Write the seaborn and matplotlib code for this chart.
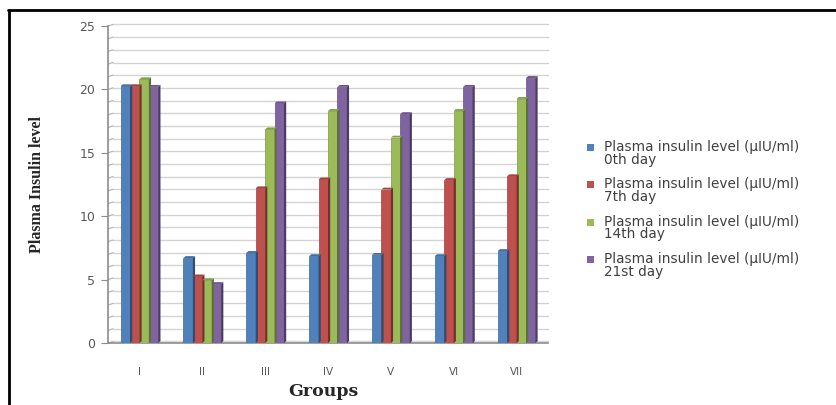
import numpy as np
import pandas as pd
import matplotlib
matplotlib.use("Agg")
import matplotlib.pyplot as plt
from matplotlib.patches import Rectangle, Polygon
from matplotlib.lines import Line2D
import seaborn as sns

groups = ["I", "II", "III", "IV", "V", "VI", "VII"]
day0 = [20.25, 6.7, 7.1, 6.85, 6.95, 6.85, 7.25]
day7 = [20.25, 5.25, 12.2, 12.9, 12.1, 12.85, 13.15]
day14 = [20.8, 4.95, 16.85, 18.3, 16.2, 18.3, 19.25]
day21 = [20.2, 4.65, 18.9, 20.2, 18.05, 20.2, 20.9]
series = [
    "Plasma insulin level (\u00b5IU/ml)\n0th day",
    "Plasma insulin level (\u00b5IU/ml)\n7th day",
    "Plasma insulin level (\u00b5IU/ml)\n14th day",
    "Plasma insulin level (\u00b5IU/ml)\n21st day",
]
colors = ["#4F81BD", "#C0504D", "#9BBB59", "#8064A2"]

df = pd.DataFrame({
    "Group": groups * 4,
    "Series": np.repeat(series, len(groups)),
    "Value": day0 + day7 + day14 + day21,
})

sns.set_style("white")
plt.rcParams["font.family"] = ["DejaVu Sans"]

W, H = 836, 405
fig = plt.figure(figsize=(W / 100, H / 100), dpi=100)
ax = fig.add_axes([108 / W, 1 - 343 / H, 440 / W, 317 / H])

sns.barplot(data=df, x="Group", y="Value", hue="Series", order=groups,
            hue_order=series, palette=colors, width=0.6, gap=0,
            saturation=1, ax=ax, legend=False, zorder=3)

ax.set_ylim(0, 25)
ax.set_xlim(-0.5, len(groups) - 0.5)

# back-wall gridlines (one per unit) with slanted joins to the axis
dx = 0.08
for v in range(0, 26):
    ax.plot([-0.5 + dx, len(groups) - 0.5], [v + 0.12, v + 0.12],
            color="#d4d4d4", lw=1.0, zorder=1, clip_on=False)
    ax.plot([-0.5, -0.5 + dx], [v, v + 0.12], color="#b8b8b8", lw=0.9,
            zorder=1, clip_on=False)

# pseudo-3D side and top faces for each bar
d_x, d_y = 0.035, 0.15
for p in ax.patches:
    x0, w, h = p.get_x(), p.get_width(), p.get_height()
    fc = np.array(matplotlib.colors.to_rgb(p.get_facecolor()))
    side = Polygon([[x0 + w, 0], [x0 + w + d_x, d_y], [x0 + w + d_x, h + d_y],
                    [x0 + w, h]], closed=True, facecolor=fc * 0.6,
                   edgecolor="none", zorder=3)
    top = Polygon([[x0, h], [x0 + d_x, h + d_y], [x0 + w + d_x, h + d_y],
                   [x0 + w, h]], closed=True,
                  facecolor=np.clip(fc * 0.85, 0, 1), edgecolor="none", zorder=3)
    ax.add_patch(side)
    ax.add_patch(top)
    p.set_edgecolor(np.clip(fc * 0.8, 0, 1))
    p.set_linewidth(0.5)

for s in ["top", "right"]:
    ax.spines[s].set_visible(False)
ax.spines["left"].set_color("#8c8c8c")
ax.spines["bottom"].set_color("#8c8c8c")
ax.spines["left"].set_linewidth(1.2)
ax.spines["bottom"].set_linewidth(1.2)

ax.set_yticks(range(0, 26, 5))
ax.tick_params(axis="y", length=5, color="#8c8c8c", labelsize=9,
               labelcolor="#595959", pad=4, left=True)
ax.tick_params(axis="x", length=0, labelsize=7.5, labelcolor="#595959", pad=17)

ax.set_xlabel("Groups", family="DejaVu Serif", fontweight="bold",
              fontsize=12.5, va="center")
ax.xaxis.set_label_coords((323 - 108) / 440, (343 - 392) / 317)
ax.set_ylabel("Plasma Insulin level", family="Liberation Serif",
              fontweight="bold", fontsize=11.5, va="center")
ax.yaxis.set_label_coords((37 - 108) / 440, 0.5)

# legend with the swatch aligned to the first text line
for i, (lab, c) in enumerate(zip(series, colors)):
    ymid = 1 - (147.5 + i * 37.4) / H
    fig.patches.append(Rectangle((587 / W, ymid - 3.5 / H), 7 / W, 7 / H,
                                 transform=fig.transFigure, facecolor=c,
                                 edgecolor="none"))
    fig.text(604 / W, ymid + 7.5 / H, lab, fontsize=9.8, color="#404040",
             va="top", ha="left", linespacing=0.88)

# outer frame
fig.add_artist(Line2D([8 / W, 1.0], [1 - 9.5 / H, 1 - 9.5 / H],
                      transform=fig.transFigure, color="black", lw=2))
fig.add_artist(Line2D([8.5 / W, 8.5 / W], [0, 1 - 9.5 / H],
                      transform=fig.transFigure, color="black", lw=2))

fig.savefig("out.png", dpi=100)
